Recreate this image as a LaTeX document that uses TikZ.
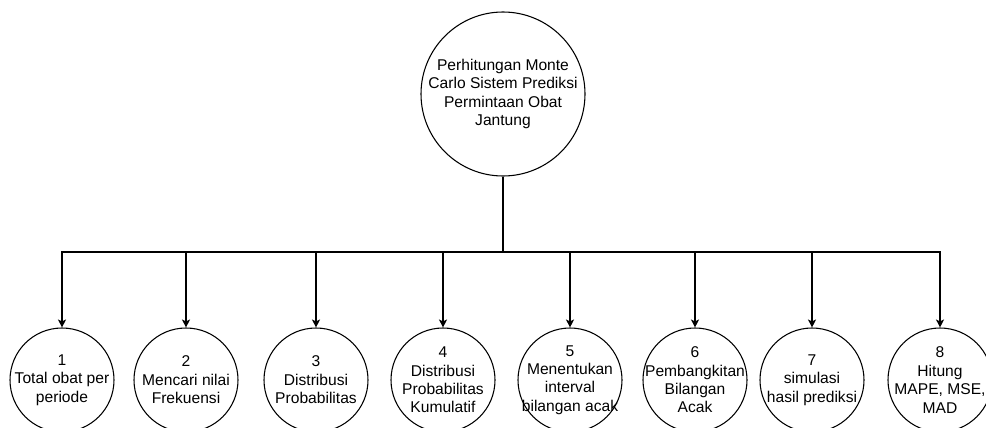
\documentclass[tikz,border=0pt]{standalone}
\usepackage{fontspec}
\setmainfont{Liberation Sans}
\usetikzlibrary{arrows.meta, positioning}
\tikzset{
  mcnode/.style={circle, draw=black, line width=0.8pt, inner sep=-12pt,
                 align=center, font=\fontsize{11.7}{13.8}\selectfont},
  mcroot/.style={mcnode, minimum size=123pt},
  mcstep/.style={mcnode, minimum size=78pt},
  mcline/.style={line width=0.8pt},
  mcarrow/.style={mcline, -{Stealth[length=6pt, width=6pt, inset=1.5pt]}},
}

\begin{document}
\begin{tikzpicture}[x=0.75pt, y=-0.75pt]
  \useasboundingbox (0,0) rectangle (986,428);
  \node[mcroot] (root) at (503,94)
    {Perhitungan Monte\\Carlo Sistem Prediksi\\Permintaan Obat\\Jantung};
  \coordinate (bus) at (503,252);
  \node[mcstep] (p1) at (62,380) {1\\Total obat per\\periode};
  \node[mcstep] (p2) at (186,380) {2\\Mencari nilai\\Frekuensi};
  \node[mcstep] (p3) at (316,380) {3\\Distribusi\\Probabilitas};
  \node[mcstep] (p4) at (443,380) {4\\Distribusi\\Probabilitas\\Kumulatif};
  \node[mcstep] (p5) at (570,380) {5\\Menentukan\\interval\\bilangan acak};
  \node[mcstep] (p6) at (695,380) {6\\Pembangkitan\\Bilangan\\Acak};
  \node[mcstep] (p7) at (812,380) {7\\simulasi\\hasil prediksi};
  \node[mcstep] (p8) at (940,380) {8\\Hitung\\MAPE, MSE,\\MAD};
  \draw[mcline] (root) -- (bus);
  \foreach \n in {1,...,8}
    \draw[mcarrow] (bus) -| (p\n);
\end{tikzpicture}
\end{document}
